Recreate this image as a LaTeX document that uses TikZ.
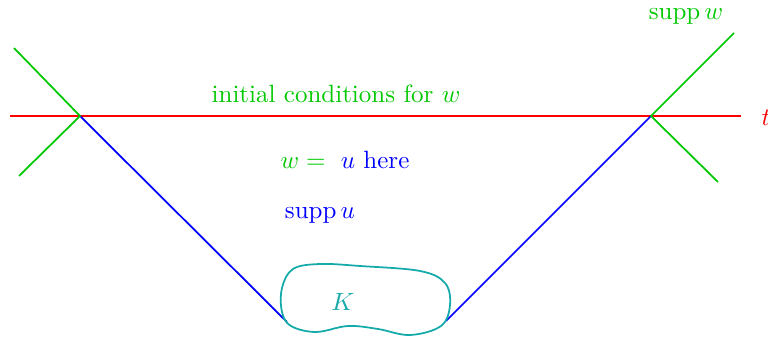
\documentclass[tikz,border=0pt]{standalone}
\usepackage{tikz}
\definecolor{suppgreen}{RGB}{0,200,0}
\definecolor{blobcyan}{RGB}{20,170,170}
\tikzset{
  axisline/.style={line width=0.7pt, red},
  coneline/.style={line width=0.7pt, blue},
  wline/.style={line width=0.7pt, suppgreen},
  blobline/.style={line width=0.7pt, blobcyan},
  lbl/.style={inner sep=0pt}
}

\begin{document}
\begin{tikzpicture}[x=0.4pt, y=-0.4pt]
  \useasboundingbox (0,0) rectangle (768,338);
  % time axis
  \coordinate (axl) at (10,116);
  \coordinate (axr) at (741,116);
  \draw[axisline] (axl) -- (axr);
  \node[lbl, red, anchor=west] (tlab) at (761,118) {$t$};

  % cone vertices and ends
  \coordinate (vl) at (80,116);
  \coordinate (vr) at (651,116);
  \coordinate (bl) at (287,322);
  \coordinate (br) at (446,321);
  \draw[coneline] (vl) -- (bl);
  \draw[coneline] (vr) -- (br);

  % support of w
  \coordinate (gl1) at (14,48);
  \coordinate (gl2) at (19,176);
  \coordinate (gr1) at (734,33);
  \coordinate (gr2) at (718,182);
  \draw[wline] (gl1) -- (vl) -- (gl2);
  \draw[wline] (gr1) -- (vr) -- (gr2);

  % compact set K
  \draw[blobline] plot[smooth cycle, tension=0.6] coordinates {
    (282,312) (282,288) (293,269) (320,264) (360,266) (420,271)
    (445,283) (450,305) (441,326) (410,335) (378,329) (348,326)
    (316,332) (291,326)};
  \node[lbl, blobcyan] (klab) at (343,302) {$K$};

  % labels
  \node[lbl, suppgreen] (suppw) at (686,17) {$\mathrm{supp}\, w$};
  \node[lbl, suppgreen] (init) at (336,94) {initial conditions for $w$};
  \node[lbl] (here) at (345,160) {\textcolor{suppgreen}{$w = {}$}\ \textcolor{blue}{$u$ here}};
  \node[lbl, blue] (suppu) at (320,216) {$\mathrm{supp}\, u$};
\end{tikzpicture}
\end{document}
